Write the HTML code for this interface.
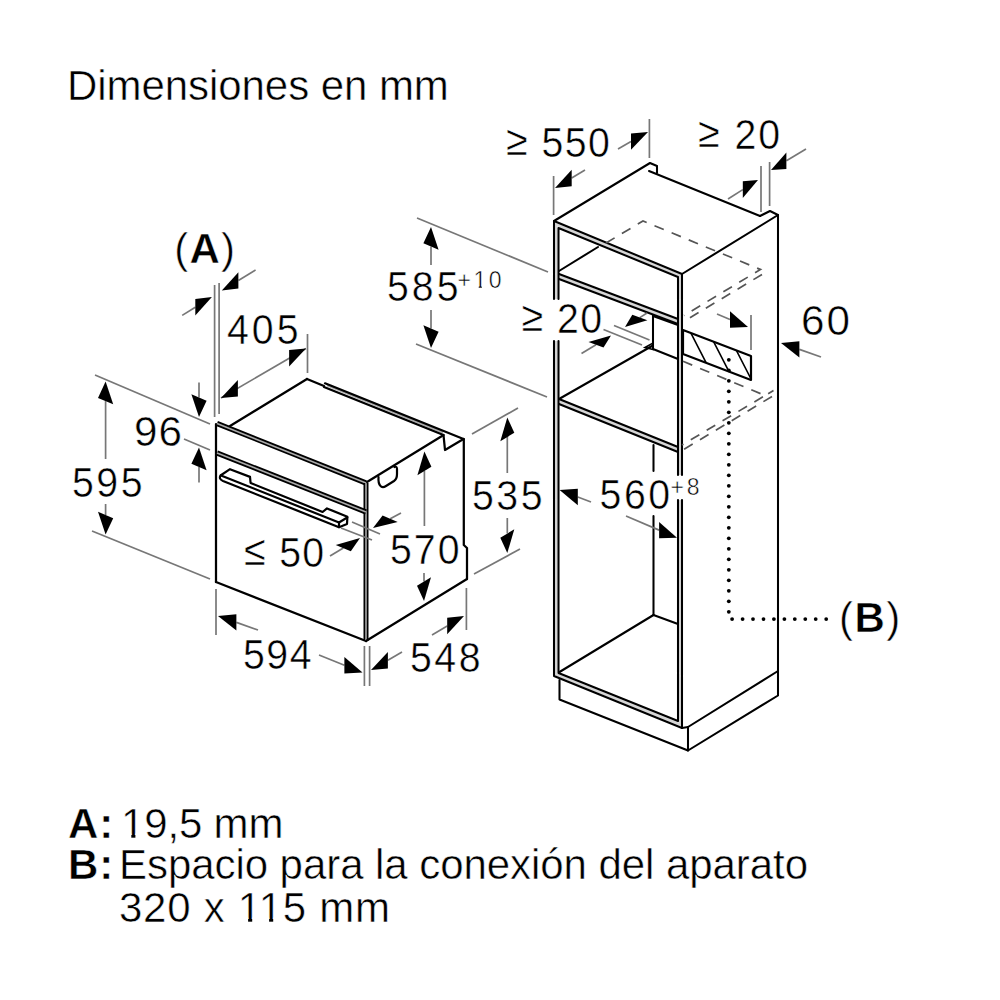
<!DOCTYPE html>
<html><head><meta charset="utf-8"><style>
html,body{margin:0;padding:0;background:#fff;}
svg{display:block;}
text{font-family:"Liberation Sans",sans-serif;fill:#000;stroke:#fff;stroke-width:0.5px}
.k{stroke:#000;stroke-width:2.25;fill:none;stroke-linejoin:round;stroke-linecap:round}
.k2{stroke:#000;stroke-width:2.2;fill:none;stroke-linejoin:round;stroke-linecap:round}
.k1{stroke:#000;stroke-width:1.6;fill:none}
.c{stroke:#000;stroke-width:2.05;fill:none;stroke-linejoin:round;stroke-linecap:round}
.dk{stroke:#000;fill:none;stroke-linejoin:round}
.dg{stroke:#aaa;fill:none}
.d{stroke:#777;stroke-width:1.7;fill:none}
.ds{stroke:#555;stroke-width:1.7;fill:none;stroke-dasharray:10 8.5}
.ar{fill:#000;stroke:none}
</style></head><body>
<svg width="1000" height="1000" viewBox="0 0 1000 1000">
<line class="k" x1="216" y1="424" x2="216" y2="582"/>
<line class="k" x1="216" y1="582" x2="366" y2="641"/>
<polyline class="dk" style="stroke-width:5.2" points="217,423.5 366,483"/>
<polyline class="dg" style="stroke-width:1.6" points="217,423.5 366,483"/>
<polyline class="dk" style="stroke-width:5" points="366,483 366,641"/>
<polyline class="dg" style="stroke-width:1.6" points="366,483 366,641"/>
<polyline class="dk" style="stroke-width:5.2" points="217,453 366,512"/>
<polyline class="dg" style="stroke-width:1.6" points="217,453 366,512"/>
<line class="k" x1="230" y1="426" x2="307" y2="379"/>
<line class="k" x1="307" y1="379" x2="324" y2="386"/>
<line x1="327" y1="385.3" x2="443" y2="432.5" stroke="#aaa" stroke-width="2"/>
<line class="k" x1="325" y1="383.3" x2="463.5" y2="439"/>
<line class="k" x1="324" y1="387" x2="443.5" y2="435"/>
<path class="k" d="M443.5,435 L445,450 L463.5,439"/>
<line class="k" x1="367" y1="482" x2="442" y2="436"/>
<path class="k" d="M463.8,439 V545 L467,548 V579"/>
<line class="k" x1="366" y1="641" x2="467" y2="579"/>
<path class="k2" d="M378.5,477 C378,485 381,489 386,486 L394,481 Q397,479 397,474 L397,469 Q397,466 394.5,467"/>
<path class="k2" d="M230,469.2 L250,476.9 L250.6,483 L322.6,512 L327,508.4 L347.4,516.8 L347,524 L339,527.2 L223,481 Q218.5,479 220.5,475.5 Z"/>
<path class="k2" d="M221,475.5 L339,522.5 L347.2,517.5 M339,522.5 L339,527.2"/>
<polyline fill="none" stroke="#d6d6d6" stroke-width="2.6" points="556.2,299 556.2,224.5 680,275.5 680,475"/>
<polyline fill="none" stroke="#d6d6d6" stroke-width="2.6" points="556.2,341 556.2,674.5 680,724.5 680,500"/>
<polyline fill="none" stroke="#d6d6d6" stroke-width="3" points="559,276.5 678,321.5"/>
<polyline fill="none" stroke="#d6d6d6" stroke-width="3" points="559,401.5 678,449.5"/>
<polyline class="c" points="554,299 554,221 682,274 682,475"/>
<polyline class="c" points="554,341 554,676 682,728 682,500"/>
<polyline class="c" points="558.5,299 558.5,228 678,277 678,475"/>
<polyline class="c" points="558.5,341 558.5,673 678,721 678,500"/>
<polyline class="c" points="554,221 650,163 657,166 657,173"/>
<line class="c" x1="649" y1="171" x2="760" y2="216"/>
<polyline class="c" points="760,216 770,211 778,215 682,274"/>
<line class="c" x1="778" y1="215" x2="778" y2="671"/>
<line class="c" x1="559" y1="274" x2="678" y2="319"/>
<line class="c" x1="559" y1="279" x2="678" y2="324"/>
<line class="c" x1="559" y1="271" x2="598" y2="247"/>
<path class="ds" d="M606,243 L643,221 L760.5,269.5 L684,315.5"/>
<path class="ds" d="M762,274.5 L684,321.3"/>
<line class="c" x1="653" y1="315" x2="653" y2="349"/>
<line class="c" x1="653" y1="316" x2="678" y2="325"/>
<line class="c" x1="652" y1="346" x2="559" y2="399"/>
<path class="k1" d="M645,347.5 L653,343 L653,349.5 Z"/>
<line class="c" x1="653" y1="349" x2="678" y2="359"/>
<clipPath id="hc"><path d="M683,330 L751,356 L751,380 L683,354 Z"/></clipPath>
<path class="k1" clip-path="url(#hc)" d="M665.9,320 L701.8,390 M684.2,320 L720.1,390 M702.5,320 L738.4,390 M720.8,320 L756.7,390 M739.1,320 L775.0,390 "/>
<path class="k2" d="M683,330 L751,356 L751,380 L683,354 Z"/>
<path class="ds" d="M683,361.3 L765,395.5 L773.5,390.5 L682,445"/>
<path class="ds" d="M772,396.5 L682,450.5"/>
<line class="c" x1="559" y1="399" x2="678" y2="447"/>
<line class="c" x1="559" y1="404" x2="678" y2="452"/>
<line class="c" x1="653.5" y1="445" x2="653.5" y2="471"/>
<line class="c" x1="653.5" y1="516" x2="653.5" y2="615"/>
<line class="c" x1="559.5" y1="672" x2="653.5" y2="615"/>
<line class="c" x1="653.5" y1="615" x2="678" y2="624"/>
<polyline class="c" points="559.5,680 559.5,699.5 688,750.5 688,727"/>
<polyline class="c" points="682,728 688,727 778,671"/>
<polyline class="c" points="688,750.5 778,695.5 778,671"/>
<g fill="#000"><circle cx="728.8" cy="359.8" r="1.9"/><circle cx="728.8" cy="370.3" r="1.9"/><circle cx="728.8" cy="380.8" r="1.9"/><circle cx="728.8" cy="391.3" r="1.9"/><circle cx="728.8" cy="401.8" r="1.9"/><circle cx="728.8" cy="412.3" r="1.9"/><circle cx="728.8" cy="422.8" r="1.9"/><circle cx="728.8" cy="433.3" r="1.9"/><circle cx="728.8" cy="443.8" r="1.9"/><circle cx="728.8" cy="454.3" r="1.9"/><circle cx="728.8" cy="464.8" r="1.9"/><circle cx="728.8" cy="475.3" r="1.9"/><circle cx="728.8" cy="485.8" r="1.9"/><circle cx="728.8" cy="496.3" r="1.9"/><circle cx="728.8" cy="506.8" r="1.9"/><circle cx="728.8" cy="517.3" r="1.9"/><circle cx="728.8" cy="527.8" r="1.9"/><circle cx="728.8" cy="538.3" r="1.9"/><circle cx="728.8" cy="548.8" r="1.9"/><circle cx="728.8" cy="559.3" r="1.9"/><circle cx="728.8" cy="569.8" r="1.9"/><circle cx="728.8" cy="580.3" r="1.9"/><circle cx="728.8" cy="590.8" r="1.9"/><circle cx="728.8" cy="601.3" r="1.9"/><circle cx="728.8" cy="611.8" r="1.9"/><circle cx="732.1" cy="619.1" r="1.9"/><circle cx="742.6" cy="619.1" r="1.9"/><circle cx="753" cy="619.1" r="1.9"/><circle cx="763.5" cy="619.1" r="1.9"/><circle cx="773.9" cy="619.1" r="1.9"/><circle cx="784.4" cy="619.1" r="1.9"/><circle cx="794.8" cy="619.1" r="1.9"/><circle cx="805.3" cy="619.1" r="1.9"/><circle cx="815.7" cy="619.1" r="1.9"/><circle cx="826.2" cy="619.1" r="1.9"/></g>
<line class="d" x1="214.6" y1="285" x2="214.6" y2="417"/>
<line class="d" x1="219.1" y1="283" x2="219.1" y2="414"/>
<line class="d" x1="182.2" y1="315.4" x2="195.3" y2="307.2"/>
<polygon class="ar" points="211.9,296.9 195.3,315.4 195.3,299"/>
<line class="d" x1="255.6" y1="269.9" x2="238.4" y2="280.4"/>
<polygon class="ar" points="221.8,290.6 238.4,288.6 238.4,272.2"/>
<line class="d" x1="307.5" y1="334" x2="307.5" y2="373"/>
<line class="d" x1="221" y1="398" x2="306" y2="348.5"/>
<polygon class="ar" points="221,398 237.9,396.4 237.9,380"/>
<polygon class="ar" points="306,348.5 289.1,366.5 289.1,350.1"/>
<line class="d" x1="95" y1="375" x2="210" y2="424"/>
<line class="d" x1="92" y1="531" x2="210" y2="579"/>
<line class="d" x1="184" y1="439" x2="210" y2="450"/>
<line class="d" x1="105.6" y1="459" x2="105.6" y2="401.1"/>
<polygon class="ar" points="105.6,381.6 113.2,404.3 98,397.9"/>
<line class="d" x1="105.6" y1="504" x2="105.6" y2="515"/>
<polygon class="ar" points="105.6,534.5 113.2,518.2 98,511.8"/>
<line class="d" x1="199" y1="382.5" x2="199" y2="397.5"/>
<polygon class="ar" points="199,417 206.6,400.7 191.4,394.3"/>
<line class="d" x1="199" y1="482.5" x2="199" y2="467"/>
<polygon class="ar" points="199,447.5 206.6,470.2 191.4,463.8"/>
<line class="d" x1="352" y1="522" x2="380" y2="534"/>
<line class="d" x1="341" y1="528" x2="372" y2="540"/>
<line class="d" x1="401" y1="513" x2="390.2" y2="518.8"/>
<polygon class="ar" points="373,528 397.7,522 382.6,515.6"/>
<line class="d" x1="330" y1="556" x2="343.3" y2="548"/>
<polygon class="ar" points="360,538 350.8,551.2 335.7,544.9"/>
<line class="d" x1="424.4" y1="526" x2="424.4" y2="471"/>
<polygon class="ar" points="424.4,451.5 431.4,466.8 417.4,475.2"/>
<line class="d" x1="424" y1="573" x2="424" y2="581.5"/>
<polygon class="ar" points="424,601 431,577.3 417,585.7"/>
<line class="d" x1="472" y1="434" x2="518" y2="408"/>
<line class="d" x1="474" y1="574" x2="520" y2="549"/>
<line class="d" x1="507.3" y1="473" x2="507.3" y2="437"/>
<polygon class="ar" points="507.3,417.5 514.3,432.8 500.3,441.2"/>
<line class="d" x1="507.3" y1="518" x2="507.3" y2="533.5"/>
<polygon class="ar" points="507.3,553 514.3,529.3 500.3,537.7"/>
<line class="d" x1="216" y1="589" x2="216" y2="635"/>
<line class="d" x1="364.4" y1="646" x2="364.4" y2="686"/>
<line class="d" x1="369.6" y1="646" x2="369.6" y2="686"/>
<line class="d" x1="258" y1="630" x2="236.4" y2="622.4"/>
<polygon class="ar" points="218,616 236.4,630.6 236.4,614.2"/>
<line class="d" x1="319" y1="655" x2="344.4" y2="665.2"/>
<polygon class="ar" points="362.5,672.5 344.4,673.4 344.4,657"/>
<line class="d" x1="466.4" y1="588" x2="466.4" y2="630"/>
<line class="d" x1="432" y1="635" x2="447.2" y2="626"/>
<polygon class="ar" points="464,616 447.2,634.2 447.2,617.8"/>
<line class="d" x1="402" y1="652" x2="387.9" y2="660.2"/>
<polygon class="ar" points="371,670 387.9,668.4 387.9,652"/>
<line class="d" x1="553.6" y1="176" x2="553.6" y2="215"/>
<line class="d" x1="649.4" y1="119" x2="649.4" y2="158"/>
<line class="d" x1="585" y1="170" x2="571.7" y2="178"/>
<polygon class="ar" points="555,188 571.7,186.2 571.7,169.8"/>
<line class="d" x1="618" y1="149" x2="631" y2="141.6"/>
<polygon class="ar" points="648,132 631,149.8 631,133.4"/>
<line class="d" x1="761" y1="166" x2="761" y2="212"/>
<line class="d" x1="769.6" y1="162" x2="769.6" y2="206"/>
<line class="d" x1="728" y1="199" x2="742.8" y2="189.6"/>
<polygon class="ar" points="758,180 742.8,197.9 742.8,181.3"/>
<line class="d" x1="806" y1="149" x2="786.4" y2="160.7"/>
<polygon class="ar" points="771,170 786.4,169 786.4,152.4"/>
<line class="d" x1="417" y1="218" x2="548" y2="272"/>
<line class="d" x1="416" y1="344" x2="547" y2="397"/>
<line class="d" x1="431" y1="265" x2="431" y2="246.5"/>
<polygon class="ar" points="431,227 438.6,249.7 423.4,243.3"/>
<line class="d" x1="431" y1="310" x2="431" y2="328.5"/>
<polygon class="ar" points="431,348 438.6,331.7 423.4,325.3"/>
<line class="d" x1="614" y1="325.5" x2="649.5" y2="340"/>
<line class="d" x1="603.5" y1="329.5" x2="642" y2="345"/>
<line class="d" x1="647" y1="313" x2="639.8" y2="317.6"/>
<polygon class="ar" points="625,327 647.4,320.3 632.3,314.8"/>
<line class="d" x1="581.5" y1="353.5" x2="596" y2="344.7"/>
<polygon class="ar" points="611,335.5 603.5,347.4 588.5,341.9"/>
<line class="d" x1="751" y1="315" x2="751" y2="350"/>
<line class="d" x1="717" y1="314" x2="730" y2="319.5"/>
<polygon class="ar" points="748,327 730,327.7 730,311.3"/>
<line class="d" x1="821" y1="357" x2="799.4" y2="349.4"/>
<polygon class="ar" points="781,343 799.4,357.6 799.4,341.2"/>
<line class="d" x1="591" y1="502" x2="577.8" y2="497"/>
<polygon class="ar" points="559.6,490 577.8,505.2 577.8,488.8"/>
<line class="d" x1="626" y1="516" x2="659.1" y2="530.1"/>
<polygon class="ar" points="677,537.8 659.1,538.3 659.1,521.9"/>
<text transform="matrix(1.0,0,0,1,67,100)" style="font-size:42.00px;font-weight:400;letter-spacing:-0.06px">Dimensiones en mm</text>
<text transform="matrix(1.0,0,0,1,174.3,263)" style="font-size:42.00px;font-weight:400;letter-spacing:1.15px">(<tspan style="font-weight:700">A</tspan>)</text>
<text transform="matrix(0.93,0,0,1,227,344)" style="font-size:42.23px;font-weight:400;letter-spacing:3.23px">405</text>
<text transform="matrix(1.0,0,0,1,134,446)" style="font-size:42.23px;font-weight:400;letter-spacing:1.0px">96</text>
<text transform="matrix(0.93,0,0,1,72,497)" style="font-size:42.23px;font-weight:400;letter-spacing:2.69px">595</text>
<text transform="matrix(0.93,0,0,1,244,566.5)" style="font-size:42.23px;font-weight:400;letter-spacing:1.43px"><tspan dy="-2">≤</tspan><tspan dy="2"> 50</tspan></text>
<text transform="matrix(0.93,0,0,1,390,564)" style="font-size:42.23px;font-weight:400;letter-spacing:2.15px">570</text>
<text transform="matrix(0.93,0,0,1,472,509.5)" style="font-size:42.23px;font-weight:400;letter-spacing:2.69px">535</text>
<text transform="matrix(0.93,0,0,1,243,669)" style="font-size:42.23px;font-weight:400;letter-spacing:1.61px">594</text>
<text transform="matrix(0.93,0,0,1,410,671.5)" style="font-size:42.23px;font-weight:400;letter-spacing:2.69px">548</text>
<text transform="matrix(0.93,0,0,1,506,156.5)" style="font-size:42.23px;font-weight:400;letter-spacing:1.61px"><tspan dy="-2">≥</tspan><tspan dy="2"> 550</tspan></text>
<text transform="matrix(0.93,0,0,1,698,149)" style="font-size:42.23px;font-weight:400;letter-spacing:2.15px"><tspan dy="-2">≥</tspan><tspan dy="2"> 20</tspan></text>
<text transform="matrix(0.93,0,0,1,387,301)" style="font-size:42.23px;font-weight:400;letter-spacing:3.23px">585</text>
<text transform="matrix(1.0,0,0,1,457.5,288)" style="font-size:23.00px;font-weight:400;letter-spacing:2.5px">+10</text>
<text transform="matrix(0.93,0,0,1,521.6,332.5)" style="font-size:42.23px;font-weight:400;letter-spacing:1.58px"><tspan dy="-2">≥</tspan><tspan dy="2"> 20</tspan></text>
<text transform="matrix(1.0,0,0,1,801,335)" style="font-size:42.23px;font-weight:400;letter-spacing:2.0px">60</text>
<text transform="matrix(0.93,0,0,1,599.6,509)" style="font-size:42.23px;font-weight:400;letter-spacing:2.69px">560</text>
<text transform="matrix(1.0,0,0,1,670.6,495)" style="font-size:23.00px;font-weight:400;letter-spacing:2.8px">+8</text>
<text transform="matrix(1.0,0,0,1,839,631.5)" style="font-size:42.00px;font-weight:400;letter-spacing:1.5px">(<tspan style="font-weight:700">B</tspan>)</text>
<text transform="matrix(1.0,0,0,1,68,838)" style="font-size:42.00px;font-weight:700;letter-spacing:1.0px">A:</text>
<text transform="matrix(1.0,0,0,1,121,838)" style="font-size:42.00px;font-weight:400;letter-spacing:-0.17px">19,5 mm</text>
<text transform="matrix(1.0,0,0,1,68,879)" style="font-size:42.00px;font-weight:700;letter-spacing:1.0px">B:</text>
<text transform="matrix(1.0,0,0,1,119,879)" style="font-size:42.00px;font-weight:400;letter-spacing:-0.06px">Espacio para la conexión del aparato</text>
<text transform="matrix(1.0,0,0,1,119,922)" style="font-size:42.00px;font-weight:400;letter-spacing:0.73px">320 x 115 mm</text>
<rect x="473.9" y="285.4" width="4.8" height="3" fill="#fff"/>
<rect x="481.9" y="285.4" width="4.5" height="3" fill="#fff"/>
<rect x="122.5" y="833.5" width="8.8" height="5" fill="#fff"/>
<rect x="135.4" y="833.5" width="8" height="5" fill="#fff"/>
<rect x="239.3" y="917.5" width="8.8" height="5" fill="#fff"/>
<rect x="252.2" y="917.5" width="8" height="5" fill="#fff"/>
<rect x="260.3" y="917.5" width="8.8" height="5" fill="#fff"/>
<rect x="273.2" y="917.5" width="8" height="5" fill="#fff"/>
</svg>
</body></html>
